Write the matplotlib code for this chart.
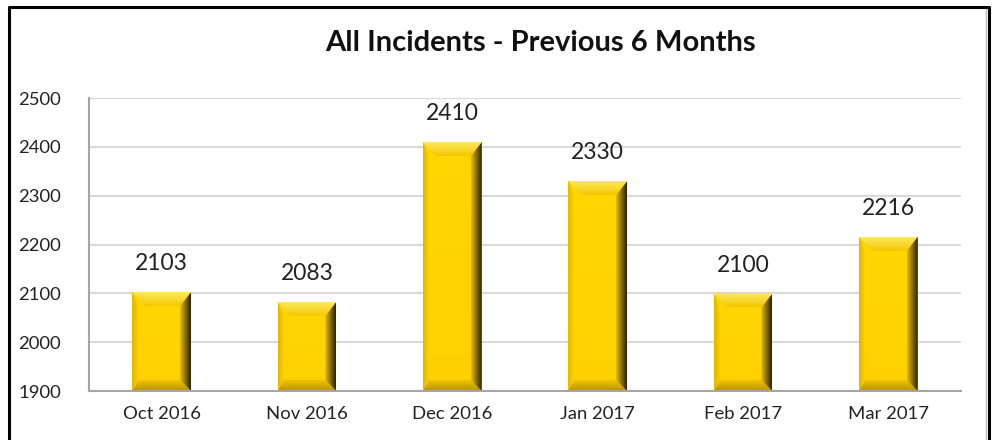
import matplotlib
matplotlib.use("Agg")
import matplotlib.pyplot as plt
import matplotlib.patches as mpatches
from matplotlib.colors import LinearSegmentedColormap
import numpy as np

months = ["Oct 2016", "Nov 2016", "Dec 2016", "Jan 2017", "Feb 2017", "Mar 2017"]
incidents = [2103, 2083, 2410, 2330, 2100, 2216]
y_ticks = [1900, 2000, 2100, 2200, 2300, 2400, 2500]

plt.rcParams['font.family'] = ['Lato', 'DejaVu Sans']

fig = plt.figure(figsize=(9.99, 4.4), dpi=100)
ax = fig.add_axes([89 / 999, 1 - 391 / 440, 872 / 999, 293 / 440])

x = np.arange(len(months))
bars = ax.bar(x, [v - 1900 for v in incidents], bottom=1900, width=0.405,
              color="#FFD400", edgecolor="none", zorder=2)

ax.set_xlim(-0.5, len(months) - 0.5)
ax.set_ylim(1900, 2500)
ax.set_yticks(y_ticks)
ax.set_xticks(x)
ax.set_xticklabels(months, fontsize=13.3, color="#222222")
ax.tick_params(axis="y", labelsize=13.3, colors="#222222", length=0, pad=20)
ax.tick_params(axis="x", length=0, pad=11)
ax.grid(axis="y", color="#d9d9d9", linewidth=1.5, zorder=0)
for side in ["top", "right"]:
    ax.spines[side].set_visible(False)
for side in ["left", "bottom"]:
    ax.spines[side].set_color("#a6a6a6")
    ax.spines[side].set_linewidth(1.5)
    ax.spines[side].set_zorder(4)


def shaded_face(pts, c_from, c_to, horizontal):
    poly = mpatches.Polygon(pts, closed=True, facecolor="none",
                            edgecolor="none", zorder=3)
    ax.add_patch(poly)
    xs = [p[0] for p in pts]
    ys = [p[1] for p in pts]
    cmap = LinearSegmentedColormap.from_list("f", [c_from, c_to])
    grad = np.linspace(0, 1, 64)
    img = grad[np.newaxis, :] if horizontal else grad[:, np.newaxis]
    im = ax.imshow(img, cmap=cmap, aspect="auto", origin="lower",
                   extent=(min(xs), max(xs), min(ys), max(ys)),
                   interpolation="bilinear", zorder=3)
    im.set_clip_path(poly)


# bevel: convert pixel sizes to data units
fig.canvas.draw()
inv = ax.transData.inverted()
p0 = inv.transform((0, 0))
bx = inv.transform((13, 0))[0] - p0[0]
by_top = inv.transform((0, 14))[1] - p0[1]
by_bot = inv.transform((0, 11))[1] - p0[1]
rx = inv.transform((11, 0))[0] - p0[0]
lx = inv.transform((6, 0))[0] - p0[0]
for b in bars:
    x0, y0 = b.get_x(), b.get_y()
    w, h = b.get_width(), b.get_height()
    x1, y1 = x0 + w, y0 + h
    # main face
    shaded_face([(x0, y0), (x1, y0), (x1, y1), (x0, y1)], "#FFD000", "#FFD700", False)
    # bottom bevel
    shaded_face([(x0, y0), (x1, y0), (x1 - rx, y0 + by_bot), (x0 + lx, y0 + by_bot)],
                "#B89200", "#EFC400", False)
    # left bevel
    shaded_face([(x0, y0), (x0, y1), (x0 + lx, y1 - by_top), (x0 + lx, y0 + by_bot)],
                "#E0B600", "#FFD200", True)
    # right bevel
    shaded_face([(x1 - rx, y0 + by_bot), (x1 - rx, y1 - by_top), (x1, y1), (x1, y0)],
                "#E6BB00", "#2b2100", True)
    # top bevel
    shaded_face([(x0, y1), (x1, y1), (x1 - rx, y1 - by_top), (x0 + bx, y1 - by_top)],
                "#F2C600", "#FFEA60", False)
    ax.text(x0 + w / 2, y1 + 36, str(int(y1)), ha="center", va="bottom",
            fontsize=16.5, color="#222222")

fig.text(540 / 999, 1 - 43 / 440, "All Incidents - Previous 6 Months",
         ha="center", va="center", fontsize=21, fontweight="bold", color="#111111")

# outer frame
fig.add_artist(plt.Line2D([9 / 999, 9 / 999, 989 / 999, 989 / 999],
                          [-0.05, 1 - 7 / 440, 1 - 7 / 440, -0.05],
                          transform=fig.transFigure, color="black", linewidth=2.2))
fig.add_artist(plt.Line2D([986 / 999, 986 / 999], [-0.05, 1 - 9 / 440],
                          transform=fig.transFigure, color="#bbbbbb", linewidth=1))

fig.savefig("out.png", dpi=100)
